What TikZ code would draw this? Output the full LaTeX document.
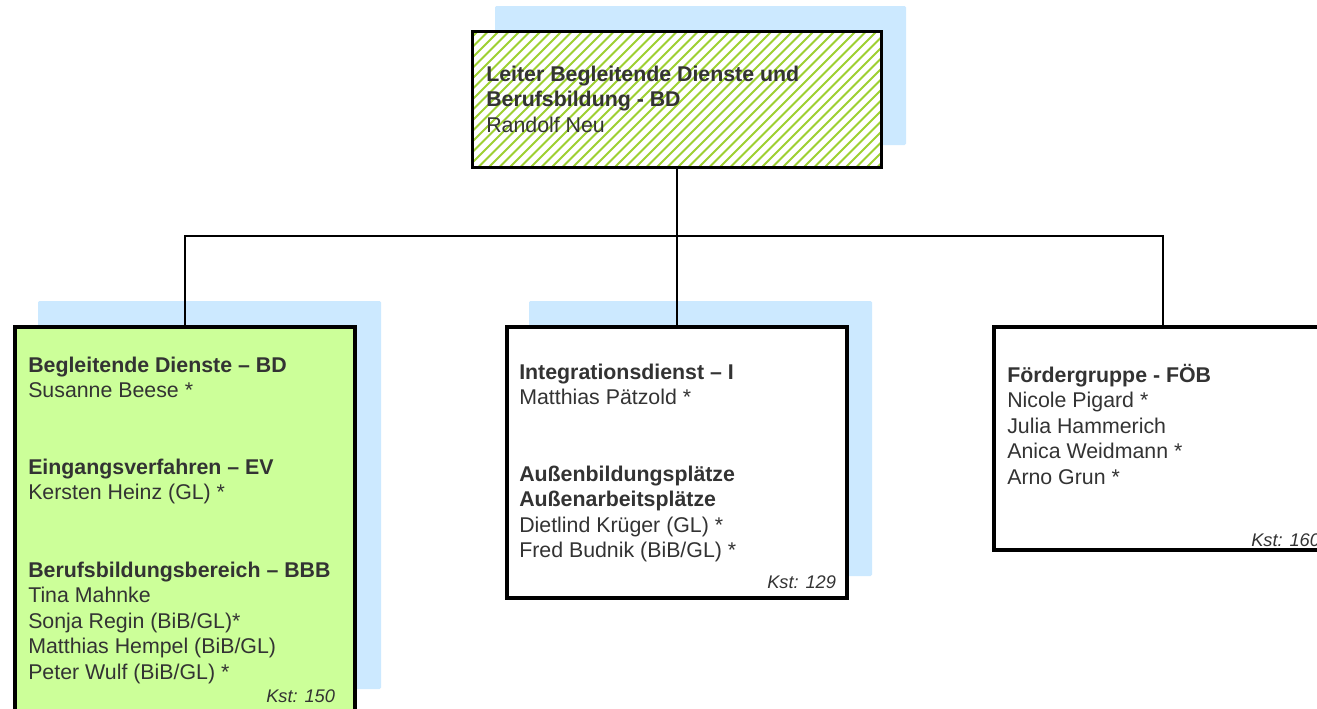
\documentclass[tikz,border=0pt]{standalone}
\usepackage{fontspec}
\setmainfont{Liberation Sans}
\usetikzlibrary{fit}
\definecolor{shadowblue}{RGB}{204,233,255}
\definecolor{boxgreen}{RGB}{204,255,153}
\definecolor{hatchgreen}{RGB}{158,208,50}
\definecolor{txt}{RGB}{51,51,51}
\newcommand\tblines[1]{\begin{tabular}[t]{@{}l@{}}#1\end{tabular}}
\begin{document}
\begin{tikzpicture}[x=0.75pt,y=-0.75pt,
  shadowbox/.style={fill=shadowblue, draw=none, inner sep=0, rounded corners=1pt},
  orgbox/.style={draw=black, line width=2.3pt, inner sep=0},
  conn/.style={draw=black, line width=1.1pt},
  txtblock/.style={anchor=base west, inner sep=0, text=txt, font=\fontsize{16}{19.2}\selectfont},
  kst/.style={anchor=base west, inner sep=0, text=txt, font=\fontsize{13.7}{16}\selectfont\itshape}]
\clip (0,0) rectangle (1317,708);
\fill[white] (0,0) rectangle (1317,708);
% shadows
\node[shadowbox, fit={(495,6) (906,145)}] (topsh) {};
\node[shadowbox, fit={(38,301) (381,689)}] (leftsh) {};
\node[shadowbox, fit={(529,301) (872,576)}] (midsh) {};
% connectors
\coordinate (hub) at (677,236);
% boxes
\node[fill=white, inner sep=0, fit={(473,32) (881,167)}] (top) {};
\begin{scope}
  \clip (top.south west) rectangle (top.north east);
  \foreach \x in {320,330.5,...,890} \draw[hatchgreen, line width=1.5pt] (\x,168) -- ++(140,-140);
\end{scope}
\draw[orgbox] (top.south west) rectangle (top.north east);
\node[orgbox, fill=boxgreen, fit={(15,327) (355,740)}] (left) {};
\node[orgbox, fill=white, fit={(507,327) (847,598)}] (mid) {};
\node[orgbox, fill=white, fit={(994,327) (1332,550)}] (right) {};
\draw[conn] (top.south) -- (hub);
\draw[conn] (hub) -| (left.north);
\draw[conn] (hub) -| (right.north);
\draw[conn] (hub) -- (mid.north);
% texts
\node[txtblock] (toptext) at (486,81) {\tblines{\textbf{Leiter Begleitende Dienste und}\\ \textbf{Berufsbildung - BD}\\ Randolf Neu}};
\node[txtblock] (bd) at (28,372) {\tblines{\textbf{Begleitende Dienste – BD}\\ Susanne Beese *}};
\node[txtblock] (ev) at (28,474) {\tblines{\textbf{Eingangsverfahren – EV}\\ Kersten Heinz (GL) *}};
\node[txtblock] (bbb) at (28,577) {\tblines{\textbf{Berufsbildungsbereich – BBB}\\ Tina Mahnke\\ Sonja Regin (BiB/GL)*\\ Matthias Hempel (BiB/GL)\\ Peter Wulf (BiB/GL) *}};
\node[kst] (kst150) at (266,702) {Kst: 150};
\node[txtblock] (integ) at (519,379) {\tblines{\textbf{Integrationsdienst – I}\\ Matthias Pätzold *}};
\node[txtblock] (aussen) at (519,481) {\tblines{\textbf{Außenbildungsplätze}\\ \textbf{Außenarbeitsplätze}\\ Dietlind Krüger (GL) *\\ Fred Budnik (BiB/GL) *}};
\node[kst] (kst129) at (767,588) {Kst: 129};
\node[txtblock] (foeb) at (1007,382) {\tblines{\textbf{Fördergruppe - FÖB}\\ Nicole Pigard *\\ Julia Hammerich\\ Anica Weidmann *\\ Arno Grun *}};
\node[kst] (kst160) at (1251,546) {Kst: 160};
\end{tikzpicture}
\end{document}
